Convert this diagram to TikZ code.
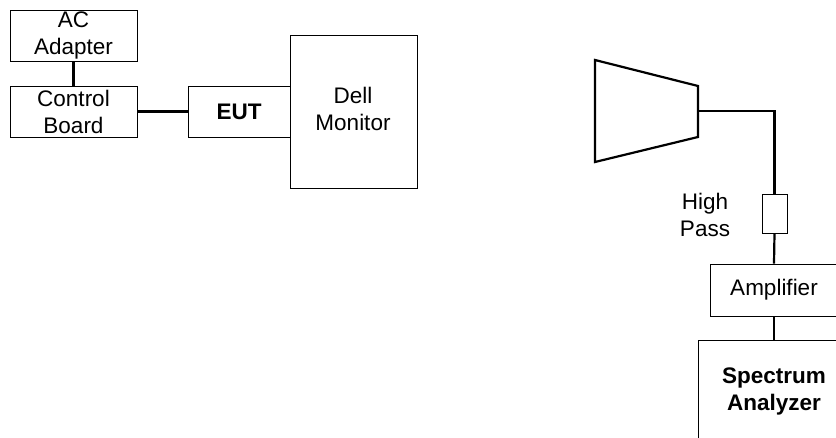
\documentclass[tikz,border=0pt]{standalone}
\usepackage{fontspec}
\setmainfont{Liberation Sans}
\usetikzlibrary{positioning}

\begin{document}
\begin{tikzpicture}[x=1pt,y=-1pt,
  box/.style={draw,line width=0.9pt,inner sep=0pt,align=center,font=\fontsize{22.5}{27}\selectfont},
  wire/.style={line width=2.2pt},
  lbl/.style={align=center,font=\fontsize{22.5}{27}\selectfont}]
\path[use as bounding box,clip] (0,0) rectangle (836,438);
\node[box,minimum width=127pt,minimum height=51pt] (ac) at (73.5,35.5) {AC\\Adapter};
\node[box,minimum width=127pt,minimum height=51pt] (ctrl) at (73.5,111.5) {Control\\Board};
\node[box,minimum width=102pt,minimum height=51pt,font=\fontsize{22.5}{27}\selectfont\bfseries] (eut) at (239,111.5) {EUT};
\node[box,minimum width=127pt,minimum height=153pt] (mon) at (353.5,111.5) {};
\node[lbl] (montext) at (353,109) {Dell\\Monitor};
\draw[wire] (ac.south) -- (ctrl.north);
\draw[wire] (ctrl.east) -- (eut.west);

\draw[wire,line join=miter] (595,60) -- (698,86) -- (698,137) -- (595,162) -- cycle;
\coordinate (horn) at (698,111);
\node[box,minimum width=25pt,minimum height=39pt] (hp) at (774.5,213.5) {};
\node[lbl] (hptext) at (705,215) {High\\Pass};
\node[box,minimum width=128pt,minimum height=52pt] (amp) at (774,290) {Amplifier};
\node[box,minimum width=152pt,minimum height=102pt,font=\fontsize{22.5}{27}\selectfont\bfseries] (sa) at (774,391) {Spectrum\\Analyzer};
\draw[wire] (horn) -| (hp.north);
\draw[wire] (hp.south) -- (amp.north);
\draw[wire] (amp.south) -- (sa.north);
\end{tikzpicture}
\end{document}
